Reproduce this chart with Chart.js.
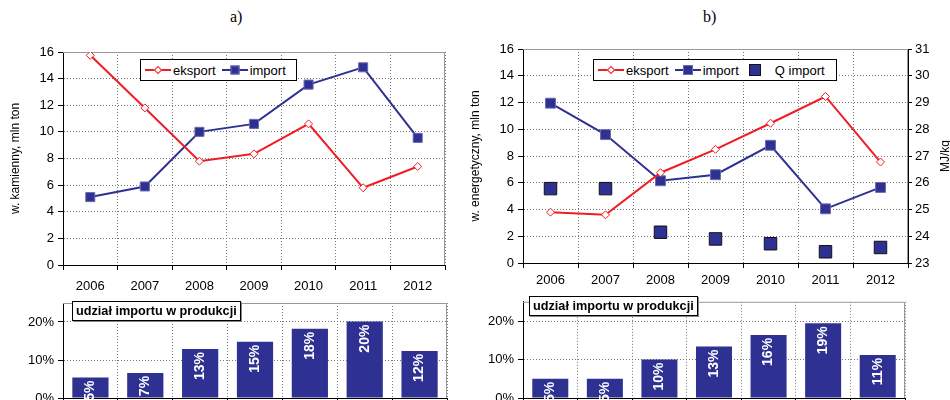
<!DOCTYPE html>
<html>
<head>
<meta charset="utf-8">
<script src="https://cdn.jsdelivr.net/npm/chart.js@4"></script>
<style>
  body { margin: 0; width: 950px; height: 400px; overflow: hidden; background: #fff; font-family: 'Liberation Sans', Arial, sans-serif; }
  .box { position: absolute; }
  .tyt { position: absolute; top: 8px; font: 16px 'Liberation Serif', 'Times New Roman', serif; color: #000; }
  .leg { position: absolute; height: 22px; border: 1px solid #000; background: #fff; display: flex; align-items: center; font-size: 13px; color: #000; padding: 0 4px; box-sizing: border-box; }
  .it { display: flex; align-items: center; margin-right: 6px; }
  .it:last-child { margin-right: 2px; }
  .smp { position: relative; width: 26px; height: 14px; display: inline-block; margin-right: 2px; }
  .smp.solo { width: 20px; margin-right: 10px; }
  .smp .ln { position: absolute; left: 0; right: 0; top: 6px; height: 2px; }
  .smp .mk { position: absolute; left: 50%; top: 50%; box-sizing: border-box; border: 1px solid; }
  .etk { position: absolute; border: 1px solid #000; background: #fff; font-weight: bold; font-size: 12.7px; padding: 2px 3px; white-space: nowrap; box-shadow: 1px 1px 0 #888; }
  .mj { position: absolute; left: 945px; top: 156px; font-size: 12px; transform: translate(-50%, -50%) rotate(-90deg); white-space: nowrap; }
</style>
</head>
<body>
<div class="tyt" style="left:230px">a)</div>
<div class="tyt" style="left:703px">b)</div>

<div class="box" style="left:0;top:30px;width:475px;height:270px"><canvas id="liniaA"></canvas></div>
<div class="box" style="left:468px;top:30px;width:482px;height:270px"><canvas id="liniaB"></canvas></div>
<div class="box" style="left:0;top:290px;width:475px;height:130px"><canvas id="slupkiA"></canvas></div>
<div class="box" style="left:468px;top:290px;width:482px;height:130px"><canvas id="slupkiB"></canvas></div>

<div class="leg" id="legA" style="left:140px;top:59px;width:157px"></div>
<div class="leg" id="legB" style="left:593px;top:59px;width:244px"></div>

<div class="etk" style="left:72px;top:301px">udział importu w produkcji</div>
<div class="etk" style="left:529px;top:296px">udział importu w produkcji</div>
<div class="mj">MJ/kg</div>

<script>
const lata = ['2006', '2007', '2008', '2009', '2010', '2011', '2012'];

// a) wegiel kamienny, mln ton
const eksportKam = [15.75, 11.8, 7.8, 8.35, 10.6, 5.8, 7.4];
const importKam = [5.1, 5.9, 10.0, 10.6, 13.55, 14.85, 9.55];
const udzialKam = [5.4, 6.6, 12.9, 14.8, 18.2, 20.1, 12.4];

// b) wegiel energetyczny, mln ton + wartosc opalowa importu MJ/kg
const eksportEn = [3.8, 3.6, 6.75, 8.5, 10.45, 12.45, 7.55];
const importEn = [11.95, 9.6, 6.15, 6.6, 8.8, 4.05, 5.65];
const qImport = [25.78, 25.78, 24.15, 23.9, 23.72, 23.42, 23.58];
const udzialEn = [5.0, 5.0, 10.0, 13.4, 16.4, 19.4, 11.2];

const CZERWONY = '#f01c24';
const GRANAT = '#2e3192';
const czcionka = { family: "'Liberation Sans', Arial, sans-serif", size: 13 };

Chart.defaults.font = czcionka;
Chart.defaults.color = '#000';
Chart.defaults.animation = false;

// szara ramka (gora + prawa strona)
const ramka = {
  id: 'ramka',
  beforeDatasetsDraw(chart) {
    const a = chart.chartArea, ctx = chart.ctx;
    ctx.save();
    ctx.strokeStyle = '#999';
    ctx.lineWidth = 1;
    ctx.beginPath();
    ctx.moveTo(a.left, a.top + 0.5);
    ctx.lineTo(a.right - 0.5, a.top + 0.5);
    ctx.lineTo(a.right - 0.5, a.bottom);
    ctx.stroke();
    ctx.restore();
  }
};

// pionowe etykiety w slupkach
const etykiety = {
  id: 'etykiety',
  afterDatasetsDraw(chart) {
    const ctx = chart.ctx;
    const meta = chart.getDatasetMeta(0);
    const dane = chart.data.datasets[0].data;
    ctx.save();
    ctx.fillStyle = '#fff';
    ctx.font = "bold 14px 'Liberation Sans', Arial, sans-serif";
    ctx.textAlign = 'right';
    ctx.textBaseline = 'middle';
    meta.data.forEach((el, i) => {
      ctx.save();
      ctx.translate(el.x, el.y + 3);
      ctx.rotate(-Math.PI / 2);
      ctx.fillText(Math.round(dane[i]) + '%', 0, 0);
      ctx.restore();
    });
    ctx.restore();
  }
};

function siatka(extra) {
  return Object.assign({ color: '#777', tickColor: '#000', tickLength: 5, lineWidth: 1 }, extra || {});
}

function osX(wys, pad, pokaz) {
  return {
    offset: true,
    grid: siatka({ offset: true }),
    border: { color: '#000', dash: [1, 2] },
    ticks: { display: pokaz, padding: pad, maxRotation: 0 },
    afterFit: (s) => { s.height = wys; }
  };
}

function osY(szer, min, max, krok, tytul, tytPad) {
  return {
    position: 'left',
    min: min, max: max,
    grid: siatka(),
    border: { color: '#000', dash: [1, 2] },
    ticks: { stepSize: krok, padding: 4 },
    title: tytul ? { display: true, text: tytul, font: { size: 12 }, padding: { top: tytPad, bottom: 0 } } : { display: false },
    afterFit: (s) => { s.width = szer; }
  };
}

function seria(label, dane, kolor, styl, r, tlo, obw, os) {
  return {
    label: label,
    data: dane,
    borderColor: kolor,
    backgroundColor: kolor,
    borderWidth: 2,
    tension: 0,
    pointStyle: styl,
    pointRadius: r,
    pointHoverRadius: r,
    pointBackgroundColor: tlo,
    pointBorderColor: obw,
    pointBorderWidth: 1,
    yAxisID: os || 'y'
  };
}

function legenda(idEl, chart) {
  const el = document.getElementById(idEl);
  chart.data.datasets.forEach((ds) => {
    const it = document.createElement('span');
    it.className = 'it';
    const smp = document.createElement('span');
    smp.className = ds.showLine === false ? 'smp solo' : 'smp';
    if (ds.showLine !== false) {
      const ln = document.createElement('span');
      ln.className = 'ln';
      ln.style.background = ds.borderColor;
      smp.appendChild(ln);
    }
    const bok = Math.round(ds.pointRadius * Math.SQRT2);
    const mk = document.createElement('span');
    mk.className = 'mk';
    mk.style.width = bok + 'px';
    mk.style.height = bok + 'px';
    mk.style.background = ds.pointBackgroundColor;
    mk.style.borderColor = ds.pointBorderColor;
    mk.style.transform = 'translate(-50%, -50%)' + (ds.pointStyle === 'rectRot' ? ' rotate(45deg)' : '');
    smp.appendChild(mk);
    const tx = document.createElement('span');
    tx.textContent = ds.label;
    it.appendChild(smp);
    it.appendChild(tx);
    el.appendChild(it);
  });
}

const wspolne = {
  responsive: true,
  maintainAspectRatio: false,
  plugins: { legend: { display: false }, tooltip: { enabled: false } }
};

// a) linie
const wykresA = new Chart(document.getElementById('liniaA'), {
  type: 'line',
  data: {
    labels: lata,
    datasets: [
      seria('eksport', eksportKam, CZERWONY, 'rectRot', 4, '#fff', CZERWONY),
      seria('import', importKam, GRANAT, 'rect', 6.4, GRANAT, '#6a6cb0')
    ]
  },
  options: Object.assign({}, wspolne, {
    layout: { padding: { top: 22, right: 30, left: 0, bottom: 0 } },
    scales: {
      x: osX(35, 9, true),
      y: osY(63, 0, 16, 2, 'w. kamienny, mln ton', 8)
    }
  }),
  plugins: [ramka]
});

// b) linie + Q import na prawej osi
const wykresB = new Chart(document.getElementById('liniaB'), {
  type: 'line',
  data: {
    labels: lata,
    datasets: [
      seria('eksport', eksportEn, CZERWONY, 'rectRot', 4, '#fff', CZERWONY),
      seria('import', importEn, GRANAT, 'rect', 7, GRANAT, '#6a6cb0'),
      Object.assign(seria('Q import', qImport, GRANAT, 'rect', 8.8, GRANAT, '#111', 'y2'), { showLine: false })
    ]
  },
  options: Object.assign({}, wspolne, {
    layout: { padding: { top: 19, right: 0, left: 0, bottom: 0 } },
    scales: {
      x: osX(37, 5, true),
      y: osY(55, 0, 16, 2, 'w. energetyczny, mln ton', 0),
      y2: {
        position: 'right',
        min: 23, max: 31,
        grid: siatka({ drawOnChartArea: false, tickLength: 4 }),
        border: { color: '#000' },
        ticks: { stepSize: 1, padding: 3 },
        afterFit: (s) => { s.width = 42; }
      }
    }
  }),
  plugins: [ramka]
});

legenda('legA', wykresA);
legenda('legB', wykresB);

function slupki(id, dane, szerY, prawy, gora) {
  return new Chart(document.getElementById(id), {
    type: 'bar',
    data: {
      labels: lata,
      datasets: [{ label: 'udział importu w produkcji', data: dane, backgroundColor: GRANAT, borderWidth: 0, barPercentage: 0.66, categoryPercentage: 1 }]
    },
    options: Object.assign({}, wspolne, {
      layout: { padding: { top: gora, right: prawy, left: 0, bottom: 0 } },
      scales: {
        x: osX(22, 0, false),
        y: Object.assign(osY(szerY, 0, 25, 10, null, 0), {
          ticks: { stepSize: 10, padding: 4, callback: (v) => v + '%' },
          afterBuildTicks: (s) => { s.ticks = s.ticks.filter((t) => t.value % 10 === 0); }
        })
      }
    }),
    plugins: [ramka, etykiety]
  });
}

slupki('slupkiA', udzialKam, 63, 28, 13);
slupki('slupkiB', udzialEn, 55, 45, 11.5);
</script>
</body>
</html>
